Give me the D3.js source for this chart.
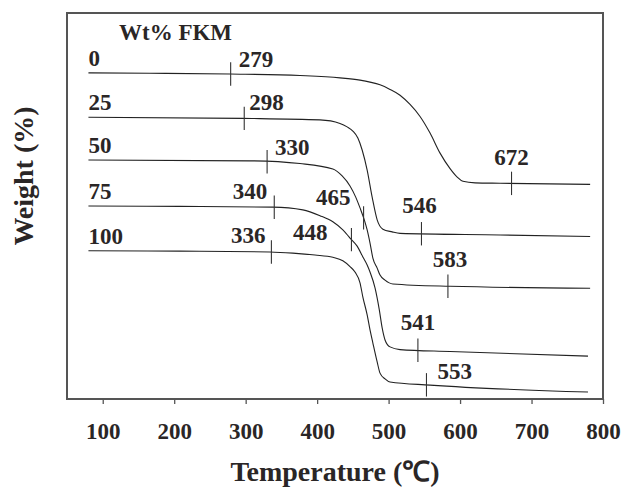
<!DOCTYPE html>
<html>
<head>
<meta charset="utf-8">
<script src="https://cdn.jsdelivr.net/npm/d3@7"></script>
<style>
  html, body { margin: 0; padding: 0; background: #fff; }
  svg { display: block; }
  text { font-family: "Liberation Serif", "Times New Roman", serif; font-weight: bold; fill: #2a2626; }
</style>
</head>
<body>
<svg id="chart" width="623" height="489"></svg>
<script>
// TGA curves for blends with increasing FKM content (curves offset vertically)
const seriesNames = ["0", "25", "50", "75", "100"];

const temp0   = [80, 166, 278, 376, 432, 460, 474, 488, 502, 516, 530, 544, 558, 572, 586, 596, 604, 621, 656, 782];
const weight0 = [84.5, 84.4, 84.2, 83.8, 83.2, 82.6, 82.1, 81.4, 80.2, 78.7, 76.3, 73.2, 68.9, 63.7, 59.7, 57.5, 56.4, 56.0, 55.9, 55.6];

const temp25   = [80, 295, 404, 432, 442, 450, 457, 463, 470, 477, 484, 492, 505, 516, 656, 782];
const weight25 = [73.0, 72.7, 72.3, 71.4, 70.5, 69.4, 67.6, 64.5, 59.3, 52.3, 46.4, 44.0, 43.3, 42.9, 42.5, 42.1];

const temp50   = [80, 306, 376, 422, 435, 446, 454, 460, 466, 470, 474, 478, 484, 488, 495, 506, 586, 782];
const weight50 = [61.9, 61.7, 61.0, 59.6, 57.8, 55.2, 52.3, 49.5, 46.4, 43.8, 40.4, 36.5, 33.9, 32.1, 30.8, 29.8, 29.2, 28.7];

const temp75   = [80, 208, 338, 380, 404, 422, 436, 446, 456, 464, 470, 474, 481, 487, 491, 495, 502, 516, 586, 779];
const weight75 = [50.0, 49.9, 49.7, 49.0, 47.5, 45.9, 43.8, 41.7, 39.6, 36.8, 34.7, 32.9, 28.8, 23.1, 18.4, 15.3, 13.5, 12.8, 12.3, 11.1];

const temp100   = [80, 208, 334, 366, 397, 422, 436, 446, 453, 460, 464, 470, 474, 478, 484, 488, 495, 502, 558, 779];
const weight100 = [38.4, 38.3, 38.1, 37.8, 37.3, 36.7, 35.8, 34.3, 32.9, 30.1, 26.4, 21.8, 17.9, 14.5, 9.6, 6.7, 5.2, 4.4, 3.6, 1.8];

const seriesTemps   = [temp0, temp25, temp50, temp75, temp100];
const seriesWeights = [weight0, weight25, weight50, weight75, weight100];

// Characteristic temperatures marked on each curve (℃)
const markTemps = [
  [279, 672],
  [298, 546],
  [330, 465, 583],
  [340, 448, 541],
  [336, 553]
];

const xTickValues = [100, 200, 300, 400, 500, 600, 700, 800];

// Label placement for the marks, parallel to markTemps
const markLabelLayout = [
  [{a: "start", dx: 8, dy: -7},  {a: "middle", dx: 0, dy: -18}],
  [{a: "start", dx: 5, dy: -8},  {a: "middle", dx: -2, dy: -21}],
  [{a: "start", dx: 8, dy: -7},  {a: "end", dx: -13, dy: -13}, {a: "middle", dx: 2, dy: -19}],
  [{a: "end", dx: -7, dy: -8},   {a: "end", dx: -24, dy: 0},   {a: "middle", dx: 0, dy: -20}],
  [{a: "end", dx: -6, dy: -9},   {a: "start", dx: 11, dy: -6}]
];

const plot = {left: 67, right: 603, top: 13, bottom: 399};

const svg = d3.select("#chart");

const x = d3.scaleLinear().domain([50, 800]).range([plot.left, plot.right]);
const y = d3.scaleLinear().domain([0, 100]).range([plot.bottom, plot.top]);

// Frame
svg.append("rect")
  .attr("x", plot.left).attr("y", plot.top)
  .attr("width", plot.right - plot.left).attr("height", plot.bottom - plot.top)
  .attr("fill", "none").attr("stroke", "#555").attr("stroke-width", 2);

// Bottom axis
const xAxis = svg.append("g")
  .attr("transform", `translate(0,${plot.bottom})`)
  .call(d3.axisBottom(x).tickValues(xTickValues).tickSize(5).tickFormat(d3.format("d")));
xAxis.select(".domain").remove();
xAxis.selectAll(".tick line").attr("stroke", "#555").attr("stroke-width", 1.3);
xAxis.selectAll(".tick text")
  .attr("y", 40).attr("dy", 0)
  .style("font-family", "'Liberation Serif', serif")
  .style("font-weight", "bold")
  .style("font-size", "23px")
  .attr("fill", "#2a2626");

// Axis titles
svg.append("text")
  .attr("x", (plot.left + plot.right) / 2).attr("y", 481)
  .attr("text-anchor", "middle")
  .style("font-size", "28px")
  .text("Temperature (℃)");

svg.append("text")
  .attr("transform", "translate(33,176) rotate(-90)")
  .attr("text-anchor", "middle")
  .style("font-size", "28px")
  .text("Weight (%)");

// Legend heading
svg.append("text")
  .attr("x", 119).attr("y", 40)
  .style("font-size", "23px")
  .text("Wt% FKM");

const line = d3.line()
  .x(d => x(d[0]))
  .y(d => y(d[1]))
  .curve(d3.curveMonotoneX);

const bis = d3.bisector(d => d).left;
function weightAt(ts, ws, t) {
  let i = bis(ts, t);
  if (i <= 0) return ws[0];
  if (i >= ts.length) return ws[ws.length - 1];
  const t0 = ts[i - 1], t1 = ts[i];
  const f = (t - t0) / (t1 - t0);
  return ws[i - 1] + f * (ws[i] - ws[i - 1]);
}

seriesNames.forEach((name, si) => {
  const ts = seriesTemps[si], ws = seriesWeights[si];
  const pts = ts.map((t, i) => [t, ws[i]]);

  svg.append("path")
    .datum(pts)
    .attr("d", line)
    .attr("fill", "none")
    .attr("stroke", "#222")
    .attr("stroke-width", 1.1);

  // Series name at the start of each curve
  svg.append("text")
    .attr("x", x(ts[0]))
    .attr("y", y(ws[0]) - 7)
    .style("font-size", "23px")
    .text(name);

  markTemps[si].forEach((t, mi) => {
    const cx = x(t);
    const cy = y(weightAt(ts, ws, t));
    svg.append("line")
      .attr("x1", cx).attr("x2", cx)
      .attr("y1", cy - 11.7).attr("y2", cy + 11.7)
      .attr("stroke", "#333").attr("stroke-width", 1.1);
    const lay = markLabelLayout[si][mi];
    svg.append("text")
      .attr("x", cx + lay.dx)
      .attr("y", cy + lay.dy)
      .attr("text-anchor", lay.a)
      .style("font-size", "23px")
      .text(t);
  });
});
</script>
</body>
</html>
